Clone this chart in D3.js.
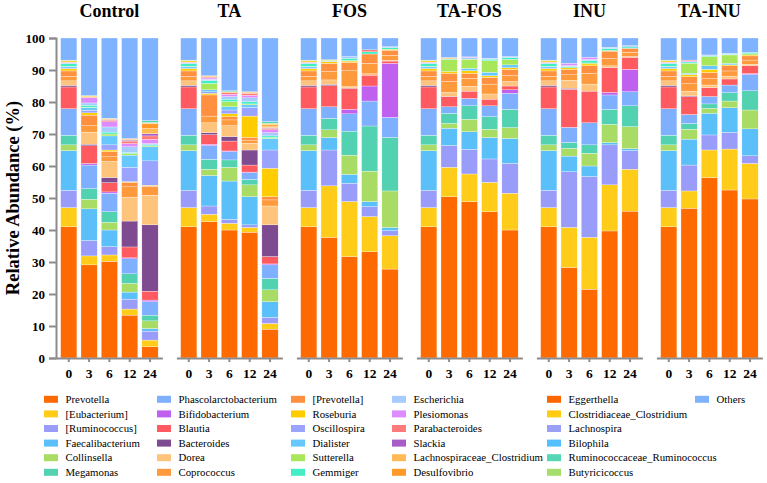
<!DOCTYPE html>
<html>
<head>
<meta charset="utf-8">
<script src="https://cdn.jsdelivr.net/npm/d3@7"></script>
<style>
  body { margin: 0; background: #fff; }
  .axis path, .axis line { stroke: #8c8c8c; stroke-width: 2; }
  .axis text { font-weight: bold; fill: #000; }
</style>
</head>
<body>
<div id="chart"></div>
<script>
const taxa = ["Prevotella", "[Eubacterium]", "[Ruminococcus]", "Faecalibacterium", "Collinsella", "Megamonas",
  "Phascolarctobacterium", "Bifidobacterium", "Blautia", "Bacteroides", "Dorea", "Coprococcus",
  "[Prevotella]", "Roseburia", "Oscillospira", "Dialister", "Sutterella", "Gemmiger",
  "Escherichia", "Plesiomonas", "Parabacteroides", "Slackia", "Lachnospiraceae_Clostridium", "Desulfovibrio",
  "Eggerthella", "Clostridiaceae_Clostridium", "Lachnospira", "Bilophila", "Ruminococcaceae_Ruminococcus", "Butyricicoccus",
  "Others"];

const colors = ["#ff6a00", "#ffcc1a", "#9a9cfa", "#5bbffa", "#a8dc64", "#52d2b0",
  "#7fb0ff", "#c060ee", "#ff5a60", "#7e4a90", "#ffc47c", "#ff9a3c",
  "#ff9040", "#ffcc00", "#9aa4ff", "#66c8ff", "#a8e65a", "#44eec4",
  "#a6ccff", "#dd8cff", "#ff7a7a", "#a85cc8", "#ffba55", "#ff9a2a",
  "#ff6600", "#ffcc11", "#99a0f5", "#55c0ff", "#55d6b4", "#a6de6e",
  "#7fb2ff"];

const groups = ["Control", "TA", "FOS", "TA-FOS", "INU", "TA-INU"];
const days = ["0", "3", "6", "12", "24"];
const yTicks = [0, 10, 20, 30, 40, 50, 60, 70, 80, 90, 100];

// day 0 baseline, shared by every group
const day0 = [41.0, 6.0, 5.4, 12.4, 1.8, 3.0, 8.3, 0, 6.8, 0.5, 1.4, 1.4, 1.7, 0.7, 0.2, 0.5, 0.1, 0.8, 0.3, 0.1, 0.1, 0, 0, 0, 0, 0.5, 0, 0.1, 0, 0, 6.9];

const control = [day0,
  [29.1, 2.8, 4.8, 9.9, 3.0, 3.3, 7.4, 0.5, 5.5, 0.5, 3.8, 2.0, 3.3, 0.7, 0.8, 0.8, 0.2, 0.6, 0.7, 1.6, 0.2, 0, 0.2, 0, 0, 0.3, 0, 0, 0, 0, 18.0],
  [30.2, 2.0, 2.6, 5.2, 2.4, 3.3, 5.8, 0.4, 2.9, 1.6, 5.0, 1.5, 1.6, 0.5, 1.6, 2.8, 0.6, 0.6, 1.6, 1.6, 0.5, 0.2, 0.2, 0, 0, 0.2, 0, 0, 0, 0, 25.1],
  [13.4, 1.9, 3.1, 2.2, 2.7, 3.0, 4.7, 0.3, 3.4, 8.1, 7.4, 3.3, 1.4, 0.2, 4.5, 3.8, 0.5, 0.3, 1.8, 1.0, 0.8, 0.3, 0.3, 0.2, 0, 0, 0, 0, 0, 0, 31.4],
  [3.5, 2.1, 2.8, 0.8, 2.4, 1.8, 4.2, 0.5, 2.8, 20.7, 9.3, 2.8, 0.2, 0.1, 7.6, 4.4, 0.3, 0.3, 0.4, 1.3, 1.1, 0.7, 1.6, 1.5, 0, 0.2, 0.2, 0, 0.6, 0, 25.8]];

const ta = [day0,
  [42.6, 2.3, 2.6, 9.5, 2.0, 3.1, 4.3, 0.4, 3.0, 0.6, 3.1, 2.1, 6.6, 0.5, 0.5, 0.6, 2.0, 0.9, 0.4, 0.4, 0.3, 0, 0.2, 0.2, 0, 0, 0, 0, 0, 0, 11.8],
  [40.0, 2.1, 1.2, 12.0, 4.3, 2.3, 2.6, 0.2, 3.1, 1.4, 3.4, 1.8, 1.0, 0.9, 1.2, 1.0, 1.6, 0.8, 0.8, 0.7, 0.5, 0, 0.3, 0, 0, 0, 0, 0, 0.3, 0, 16.5],
  [39.3, 1.5, 0.8, 8.8, 3.7, 1.7, 2.1, 0.2, 2.2, 4.7, 2.1, 1.0, 0.9, 6.6, 2.7, 0.8, 0.3, 0.7, 1.2, 0.8, 0.6, 0, 0.3, 0.2, 0, 0, 0, 0, 0, 0, 16.8],
  [9.0, 1.8, 1.9, 4.9, 3.7, 3.6, 4.2, 0.3, 2.3, 9.9, 5.9, 1.9, 1.0, 8.9, 5.7, 3.6, 0.3, 0.5, 1.0, 0.9, 0.5, 0.2, 0.5, 0.5, 0, 0.3, 0, 0, 0.6, 0, 26.1]];

const fos = [day0,
  [37.7, 16.1, 11.2, 3.9, 2.4, 3.6, 3.6, 0, 6.6, 0.4, 1.4, 2.6, 2.6, 0.5, 0.1, 0.1, 0, 0.2, 0, 0, 0, 0, 0, 0, 0, 0.2, 0, 0, 0, 0, 6.8],
  [31.7, 17.2, 5.7, 2.8, 6.0, 7.5, 5.4, 1.4, 6.6, 0.1, 0.4, 5.0, 2.6, 0.4, 0, 0, 0.2, 0.7, 0.5, 0, 0, 0, 0, 0, 0, 0, 0, 0, 0, 0, 5.8],
  [33.2, 11.0, 3.1, 1.6, 9.5, 14.1, 7.8, 4.7, 3.4, 0, 0.4, 3.3, 2.9, 0, 0, 0, 0, 0.7, 0, 0, 0.6, 0, 0, 0, 0, 0, 0, 0, 0, 0, 3.7],
  [27.8, 10.4, 1.6, 1.0, 11.4, 16.7, 6.3, 16.9, 0.7, 0, 0.2, 1.6, 1.6, 0.3, 0, 0, 0, 0.5, 0.3, 0, 0, 0, 0, 0, 0, 0, 0, 0, 0, 0, 2.7]];

const taFos = [day0,
  [50.4, 9.2, 6.8, 5.4, 1.5, 3.2, 2.0, 0, 3.2, 0.1, 1.2, 3.4, 2.6, 0.5, 0, 0, 3.8, 0.2, 0, 0, 0, 0, 0.4, 0, 0, 0, 0, 0, 0, 0, 6.1],
  [48.9, 8.6, 7.7, 5.5, 3.9, 4.2, 2.3, 0, 2.3, 0, 1.5, 2.5, 1.6, 0.8, 0, 0.7, 2.9, 0, 0.5, 0.2, 0, 0, 0, 0, 0, 0, 0, 0, 0, 0, 5.9],
  [45.7, 9.2, 7.3, 6.7, 2.6, 3.9, 3.4, 0, 2.1, 0, 1.6, 3.1, 2.1, 0.5, 0, 1.1, 3.6, 0.5, 0.3, 0, 0, 0, 0, 0, 0, 0, 0, 0, 0, 0, 6.3],
  [40.0, 11.5, 9.3, 7.8, 3.4, 5.7, 5.0, 1.1, 1.2, 0, 1.4, 2.0, 1.8, 0.5, 0, 0.9, 1.7, 0.6, 0.3, 0, 0, 0, 0, 0, 0, 0, 0, 0, 0, 0, 5.8]];

const inu = [day0,
  [28.3, 12.5, 17.4, 4.9, 2.4, 1.9, 4.7, 0, 11.9, 0.3, 2.5, 1.7, 1.7, 0.5, 0, 0, 0, 0.4, 0.3, 0.7, 0, 0, 0, 0, 0, 0, 0, 0, 0, 0, 7.9],
  [21.5, 16.2, 19.0, 3.3, 4.0, 2.6, 6.9, 0, 9.9, 0, 2.2, 3.4, 2.3, 0.6, 0, 0, 0.3, 0.7, 0.4, 0.7, 0, 0, 0, 0, 0, 0, 0, 0, 0, 0, 6.0],
  [39.7, 14.4, 12.5, 0.7, 5.7, 4.7, 4.5, 0.8, 7.8, 0, 0.5, 2.3, 2.3, 0.2, 0, 0, 0, 0.6, 0.4, 0, 0, 0, 0, 0, 0, 0, 0, 0, 0, 0, 2.9],
  [45.9, 13.1, 5.8, 0.6, 6.9, 6.5, 4.4, 7.0, 3.8, 0, 0.2, 1.3, 1.3, 0, 0, 0, 0, 0.4, 0.4, 0, 0, 0, 0, 0, 0, 0, 0, 0, 0, 0, 2.4]];

const taInu = [day0,
  [46.8, 5.4, 8.1, 8.1, 3.1, 1.8, 2.8, 0, 5.6, 0.2, 1.5, 2.3, 2.2, 0.7, 0, 0.4, 3.1, 0.4, 0, 0.3, 0.3, 0, 0, 0, 0, 0, 0, 0, 0, 0, 6.9],
  [56.4, 8.6, 4.7, 6.8, 1.5, 1.4, 2.3, 0, 2.8, 0, 0.8, 2.0, 1.9, 1.0, 0, 1.1, 2.9, 0.2, 0.3, 0, 0, 0, 0, 0, 0, 0, 0, 0, 0, 0, 5.3],
  [52.5, 12.8, 5.2, 7.7, 2.1, 2.6, 2.4, 0, 1.9, 0, 0.9, 1.6, 1.6, 0.3, 0, 0.5, 2.6, 0.2, 0.3, 0, 0, 0, 0, 0, 0, 0, 0, 0, 0, 0, 4.8],
  [49.7, 11.1, 2.4, 8.4, 5.9, 6.0, 5.1, 0.3, 2.4, 0, 0.5, 1.3, 1.3, 0.3, 0, 0, 0.4, 0.4, 0, 0, 0, 0, 0, 0, 0, 0, 0, 0, 0, 0, 4.5]];

const groupData = [control, ta, fos, taFos, inu, taInu];

const serif = "Liberation Serif, DejaVu Serif, serif";
const width = 767, height = 483;
const svg = d3.select("#chart").append("svg")
  .attr("width", width)
  .attr("height", height)
  .style("font-family", serif);

const y = d3.scaleLinear().domain([0, 100]).range([358, 38]);
const color = d3.scaleOrdinal().domain(taxa).range(colors);

const stack = d3.stack()
  .keys(d3.range(taxa.length))
  .value((d, k) => d.values[k]);

groups.forEach((g, gi) => {
  let x0 = 56.4 + gi * 120;
  let x = d3.scaleBand()
    .domain(days)
    .range([x0, x0 + 106])
    .paddingInner(0.2)
    .paddingOuter(0.21);

  let rows = days.map((d, i) => ({day: d, values: groupData[gi][i]}));
  let series = stack(rows);

  let panel = svg.append("g");

  panel.selectAll("g.layer")
    .data(series)
    .enter().append("g")
    .attr("class", "layer")
    .attr("fill", s => colors[s.key])
    .selectAll("rect")
    .data(s => s)
    .enter().append("rect")
    .attr("x", d => x(d.data.day))
    .attr("width", x.bandwidth())
    .attr("y", d => y(d[1]))
    .attr("height", d => Math.max(0, y(d[0]) - y(d[1])))
    .attr("stroke", "#fff")
    .attr("stroke-width", 0.3);

  panel.append("g")
    .attr("class", "axis")
    .attr("transform", "translate(0,358)")
    .call(d3.axisBottom(x).tickSize(4).tickSizeOuter(0))
    .attr("font-family", null)
    .call(a => a.selectAll("text").attr("font-size", 13.5).attr("dy", "0.95em"));

  panel.append("text")
    .attr("x", x0 + 53)
    .attr("y", 17)
    .attr("text-anchor", "middle")
    .attr("font-size", 18)
    .attr("font-weight", "bold")
    .text(g);
});

svg.append("g")
  .attr("class", "axis")
  .attr("transform", "translate(56,0)")
  .call(d3.axisLeft(y).tickValues(yTicks).tickSize(7).tickSizeOuter(7).tickPadding(4))
  .attr("font-family", null)
  .call(a => a.selectAll("text").attr("font-size", 13));

svg.append("text")
  .attr("transform", "translate(19,198) rotate(-90)")
  .attr("text-anchor", "middle")
  .attr("font-size", 18.5)
  .attr("font-weight", "bold")
  .text("Relative Abundance (%)");

// legend, column-major, 6 rows
const legendCols = [44, 157, 291, 392, 547, 695];
const legend = svg.append("g");
taxa.forEach((t, i) => {
  let col = Math.floor(i / 6), row = i % 6;
  let lx = legendCols[col], ly = 399.3 + row * 14.6;
  legend.append("rect")
    .attr("x", lx).attr("y", ly - 3.5)
    .attr("width", 14).attr("height", 7)
    .attr("fill", color(t));
  legend.append("text")
    .attr("x", lx + 21.5).attr("y", ly)
    .attr("dy", "0.35em")
    .attr("font-size", 10.8)
    .text(t);
});
</script>
</body>
</html>
